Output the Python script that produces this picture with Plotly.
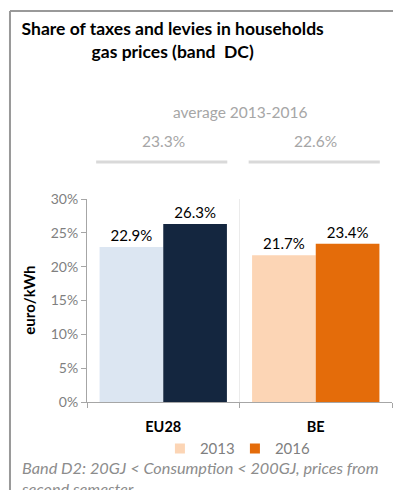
import plotly.graph_objects as go

# data
countries = ["EU28", "BE"]
years = ["2013", "2016"]
share_2013 = [22.9, 21.7]
share_2016 = [26.3, 23.4]
avg_13_16 = [23.3, 22.6]
colors_2013 = ["#dce6f2", "#fcd5b5"]
colors_2016 = ["#14263f", "#e46c0a"]
y_ticks = [0, 5, 10, 15, 20, 25, 30]

FONT = "Lato"
GREY = "#7f7f7f"
LIGHT = "#a6a6a6"

fig = go.Figure()
for yr, vals, cols in [(years[0], share_2013, colors_2013), (years[1], share_2016, colors_2016)]:
    fig.add_trace(go.Bar(x=countries, y=vals, name=yr, marker=dict(color=cols, line_width=0),
                         text=[f"{v:.1f}%" for v in vals], textposition="outside",
                         textfont=dict(size=15, color="black", family=FONT),
                         cliponaxis=False, showlegend=False))
# legend shows the BE colours, as in the original
for yr, col in [(years[0], colors_2013[1]), (years[1], colors_2016[1])]:
    fig.add_trace(go.Scatter(x=[None], y=[None], mode="markers", name=yr,
                             marker=dict(symbol="square", size=10, color=col)))

# page body has an 8px margin, so the figure is 8px smaller than the window
shapes = [
    dict(type="line", xref="paper", yref="paper", x0=-0.2525, x1=1.1, y0=1.926, y1=1.926,
         line=dict(color="#999999", width=2)),
    dict(type="line", xref="paper", yref="paper", x0=-0.2525, x1=-0.2525, y0=1.926, y1=-0.5,
         line=dict(color="#999999", width=2)),
]
annotations = [
    dict(text="average 2013-2016", xref="paper", yref="paper", x=0.502, y=1.429,
         xanchor="center", yanchor="middle", showarrow=False,
         font=dict(size=15.5, color=LIGHT, family=FONT)),
]
for c, a in zip(countries, avg_13_16):
    annotations.append(dict(text=f"{a:.1f}%", x=c, xref="x", yref="paper", y=1.286,
                            xanchor="center", yanchor="middle", showarrow=False,
                            font=dict(size=15.5, color=LIGHT, family=FONT)))
for i in range(len(countries)):
    shapes.append(dict(type="line", xref="x", yref="paper", x0=i - 0.44, x1=i + 0.42,
                       y0=1.182, y1=1.182, line=dict(color="#d9d9d9", width=3)))
annotations.append(dict(text="<b>euro/kWh</b>", xref="paper", yref="paper", x=-0.193, y=0.5,
                        xanchor="center", yanchor="middle", textangle=-90, showarrow=False,
                        font=dict(size=15, color="black", family=FONT)))
annotations.append(dict(text="<i>Band D2: 20GJ < Consumption < 200GJ, prices from<br>second semester</i>",
                        xref="paper", yref="paper", x=-0.2235, y=-0.266, xanchor="left", yanchor="top",
                        align="left", showarrow=False,
                        font=dict(size=16.3, color="#8c8c8c", family=FONT)))

fig.update_layout(
    width=393, height=482,
    margin=dict(l=79, r=9, t=191, b=88),
    paper_bgcolor="white", plot_bgcolor="white",
    barmode="group", bargap=0.165, bargroupgap=0,
    title=dict(text="<b>Share of taxes and levies in households<br>gas prices (band  DC)</b>",
               xref="container", x=0.419, xanchor="center", y=0.944, yanchor="top",
               font=dict(size=17.5, color="black", family=FONT)),
    font=dict(family=FONT, color=GREY, size=14),
    xaxis=dict(showline=True, linecolor=LIGHT, ticks="outside", ticklen=5, tickcolor=LIGHT,
               tickson="boundaries", showgrid=True, gridcolor="#ebebeb",
               tickfont=dict(size=14.5, color="black", family=FONT),
               tickprefix="<b>", ticksuffix="</b>",
               ticklabelstandoff=12, range=[-0.5, 1.5]),
    yaxis=dict(range=[0, 30], tickvals=y_ticks, ticktext=[f"{t}%" for t in y_ticks],
               showline=True, linecolor=LIGHT, ticks="outside", ticklen=5,
               tickcolor=LIGHT, showgrid=False, zeroline=False,
               tickfont=dict(size=14, color=GREY, family=FONT)),
    legend=dict(orientation="h", xref="paper", x=0.485, xanchor="center", y=-0.23, yanchor="middle",
                font=dict(size=15, color=GREY, family=FONT), itemwidth=30,
                entrywidth=30, entrywidthmode="pixels",
                bgcolor="rgba(0,0,0,0)"),
    shapes=shapes, annotations=annotations,
)

fig.write_html("out.html")
